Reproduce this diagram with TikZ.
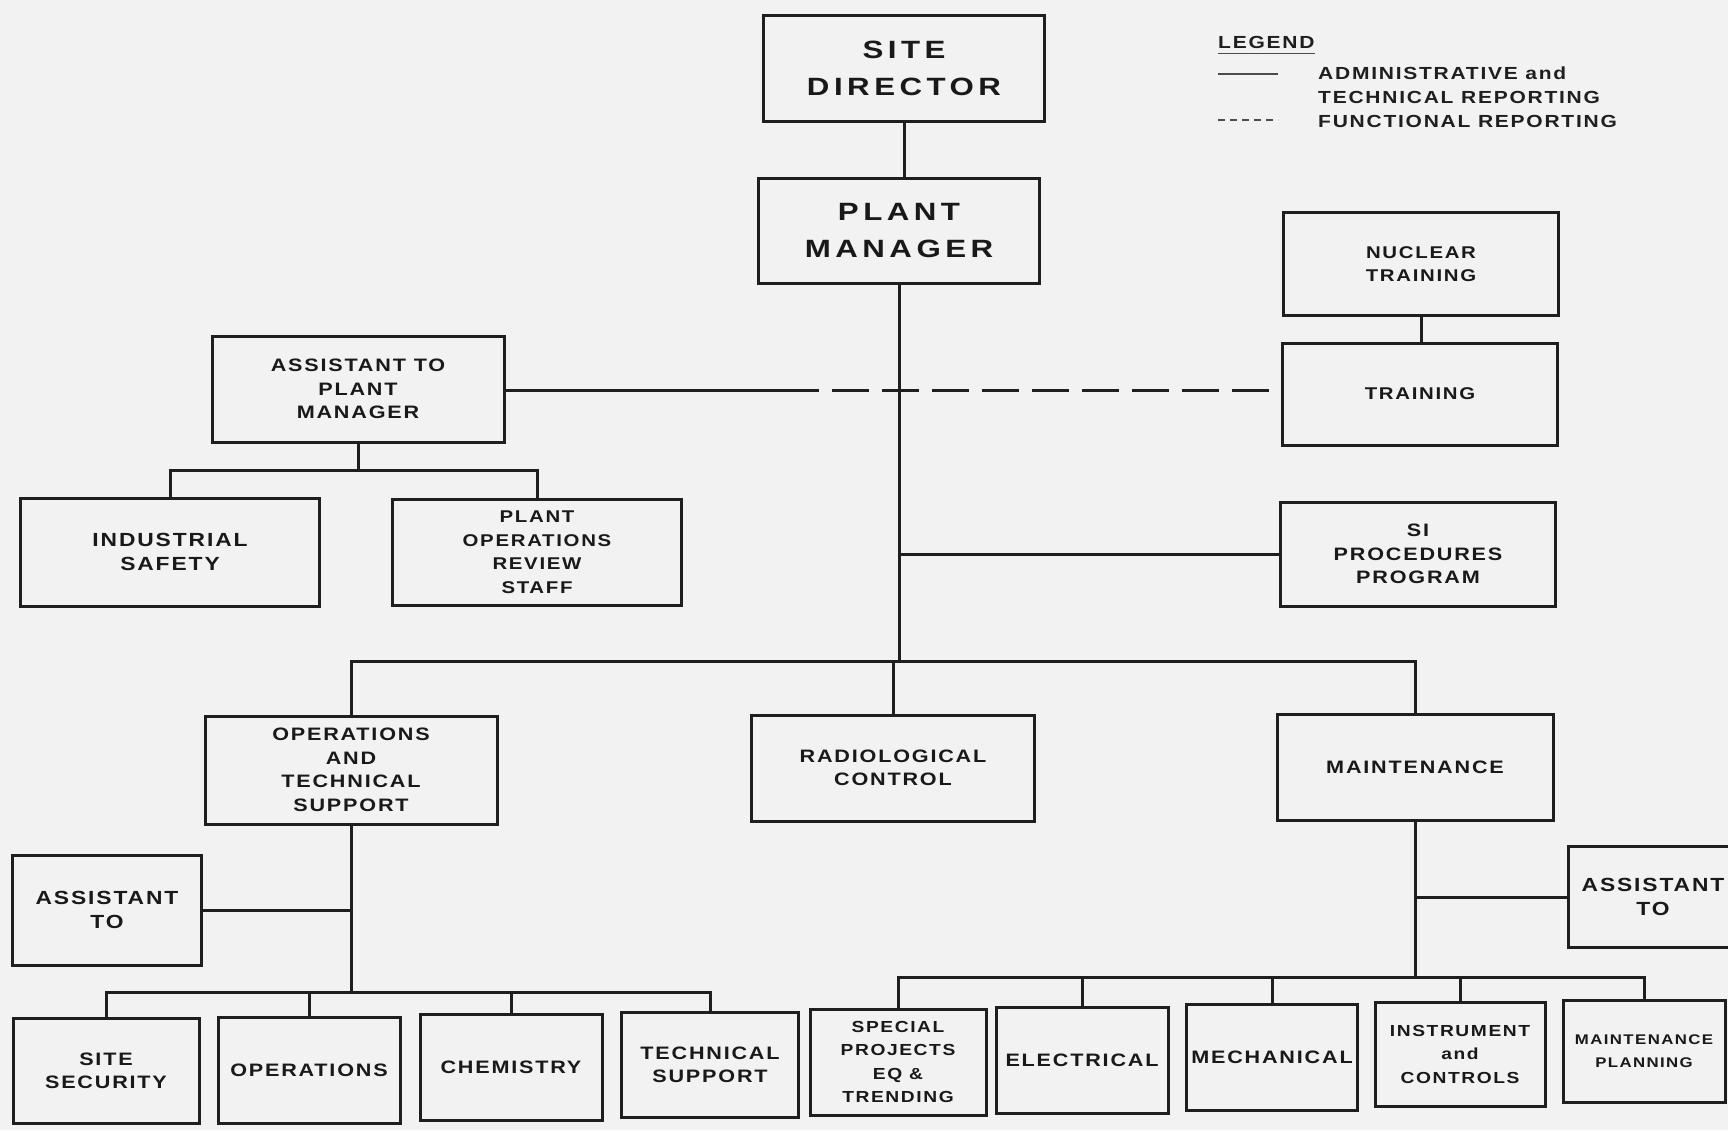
\documentclass[tikz,border=0pt]{standalone}
\usepackage{fontspec}
\newfontfamily\headfont[FakeStretch=1.25,LetterSpace=18]{Liberation Sans Bold}
\newfontfamily\chartfont[FakeStretch=1.2,LetterSpace=10]{Liberation Sans Bold}

\tikzset{
  unit/.style={draw=black!88, line width=3pt, inner sep=0pt, align=center,
    text=black!90, font=\chartfont\fontsize{19}{24}\selectfont},
  head/.style={unit, font=\headfont\fontsize{25}{37}\selectfont},
  small/.style={font=\chartfont\fontsize{#1}{23.5}\selectfont},
  link/.style={draw=black!88, line width=3pt},
  functional/.style={link, dash pattern=on 37pt off 13pt},
  keytext/.style={anchor=west, align=left, inner sep=0pt, text=black!88,
    font=\chartfont\fontsize{17.5}{24}\selectfont},
}

\begin{document}
\begin{tikzpicture}[x=1pt,y=-1pt]
\useasboundingbox (0,0) rectangle (1728,1130);
\fill[black!5] (0,0) rectangle (1728,1130);

% top of the chart
\node[head, minimum width=281, minimum height=106] (sd) at (904,68) {SITE\\DIRECTOR};
\node[head, minimum width=281, minimum height=105] (pm) at (899,231) {PLANT\\MANAGER};

\node[unit, small=17, minimum width=275, minimum height=103] (nt) at (1421,264) {NUCLEAR\\TRAINING};
\node[unit, small=17, minimum width=275, minimum height=102] (tr) at (1420,394) {TRAINING};
\node[unit, small=18, minimum width=275, minimum height=104] (sip) at (1418,554) {SI\\PROCEDURES\\PROGRAM};

\node[unit, small=18, minimum width=292, minimum height=106] (apm) at (358,389) {ASSISTANT TO\\PLANT\\MANAGER};
\node[unit, minimum width=299, minimum height=108] (is) at (170,552) {INDUSTRIAL\\SAFETY};
\node[unit, small=17, minimum width=289, minimum height=106] (pors) at (537,552) {PLANT\\OPERATIONS\\REVIEW\\STAFF};

% middle row
\node[unit, small=18, minimum width=292, minimum height=108] (ots) at (351,770) {OPERATIONS\\AND\\TECHNICAL\\SUPPORT};
\node[unit, small=18, minimum width=283, minimum height=106] (rc) at (893,768) {RADIOLOGICAL\\CONTROL};
\node[unit, small=18, minimum width=276, minimum height=106] (mt) at (1415,767) {MAINTENANCE};

\node[unit, minimum width=189, minimum height=110] (atl) at (107,910) {ASSISTANT\\TO};
\node[unit, minimum width=170, minimum height=101] (atr) at (1653,897) {ASSISTANT\\TO};

% bottom row
\node[unit, small=18, minimum width=186, minimum height=105] (ss) at (106,1071) {SITE\\SECURITY};
\node[unit, small=18, minimum width=182, minimum height=106] (ops) at (309,1070) {OPERATIONS};
\node[unit, small=18, minimum width=182, minimum height=106] (ch) at (511,1067) {CHEMISTRY};
\node[unit, small=18, minimum width=177, minimum height=105] (ts) at (710,1065) {TECHNICAL\\SUPPORT};
\node[unit, small=16, minimum width=176, minimum height=106] (sp) at (898,1062) {SPECIAL\\PROJECTS\\EQ \&\\TRENDING};
\node[unit, small=18, minimum width=172, minimum height=106] (el) at (1082,1060) {ELECTRICAL};
\node[unit, small=18, minimum width=171, minimum height=106] (me) at (1272,1057) {MECHANICAL};
\node[unit, small=16, minimum width=170, minimum height=104] (ic) at (1460,1054) {INSTRUMENT\\and\\CONTROLS};
\node[unit, small=14, minimum width=162, minimum height=102] (mp) at (1644,1051) {MAINTENANCE\\PLANNING};

% bus points
\coordinate (split) at (782,390);
\coordinate (abus) at (358,470);
\coordinate (bus) at (899,661);
\coordinate (lbus) at (351,992);
\coordinate (rbus) at (1415,977);

% reporting lines
\draw[link] (sd.south) -- (sd.south |- pm.north);
\draw[link] (pm.south) -- (bus);
\draw[link] (nt.south) -- (nt.south |- tr.north);
\draw[link] (apm.east |- split) -- (split);
\draw[functional] (split) -- (split -| tr.west);
\draw[link] (sip.west) -- (sip.west -| pm.south);
\draw[link] (apm.south) -- (abus);
\draw[link] (is.north) |- (abus) -| (pors.north);
\draw[link] (ots.north) |- (bus) -| (mt.north);
\draw[link] (bus -| rc.north) -- (rc.north);
\draw[link] (ots.south) -- (lbus);
\draw[link] (atl.east) -- (atl.east -| ots.south);
\draw[link] (ss.north) |- (lbus) -| (ts.north);
\draw[link] (lbus -| ops.north) -- (ops.north);
\draw[link] (lbus -| ch.north) -- (ch.north);
\draw[link] (mt.south) -- (rbus);
\draw[link] (atr.west) -- (atr.west -| mt.south);
\draw[link] (sp.north) |- (rbus) -| (mp.north);
\draw[link] (rbus -| el.north) -- (el.north);
\draw[link] (rbus -| me.north) -- (me.north);
\draw[link] (rbus -| ic.north) -- (ic.north);

% legend
\node[keytext] (lg) at (1218,42) {LEGEND};
\draw[black!70, line width=1pt] ([yshift=-5pt]lg.south west) -- ([yshift=-5pt]lg.south east);
\coordinate (k1) at (1218,74);
\coordinate (k2) at (1278,74);
\coordinate (k3) at (1218,120);
\coordinate (k4) at (1278,120);
\draw[black!70, line width=1.2pt] (k1) -- (k2);
\draw[black!70, line width=1.2pt, dash pattern=on 7pt off 5pt] (k3) -- (k4);
\node[keytext] (kt1) at (1318,85) {ADMINISTRATIVE and\\TECHNICAL REPORTING};
\node[keytext] (kt2) at (1318,121) {FUNCTIONAL REPORTING};
\end{tikzpicture}
\end{document}
